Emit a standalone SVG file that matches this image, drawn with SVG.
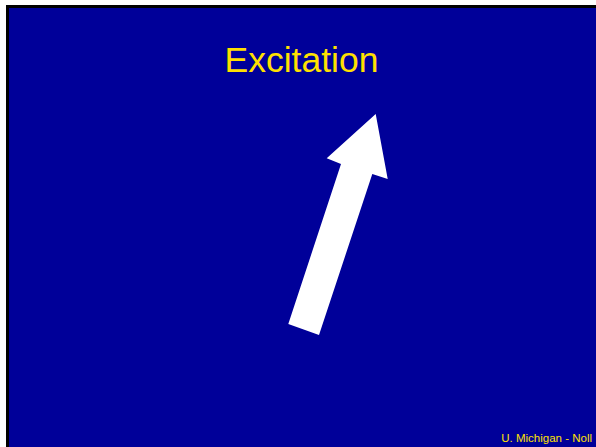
<svg xmlns="http://www.w3.org/2000/svg" width="596" height="447" viewBox="0 0 596 447">
<style>
.t{font-family:"Liberation Sans",Arial,sans-serif;fill:#FFE000}
</style>
<rect x="0" y="0" width="596" height="447" fill="#FFFFFF"/>
<rect x="6" y="5" width="590" height="442" fill="#000000"/>
<rect x="9" y="8" width="587" height="439" fill="#000099"/>
<g id="title"><text class="t" x="301.5" y="72" font-size="35.5" text-anchor="middle">Excitation</text></g>
<g id="arrow"><polygon points="375.7,114 387.7,179 372.3,174 319,335 288.3,324 341,164 326.7,158.3" fill="#FFFFFF"/></g>
<g id="footer"><text class="t" x="592" y="442" font-size="11.5" text-anchor="end">U. Michigan - Noll</text></g>
</svg>
